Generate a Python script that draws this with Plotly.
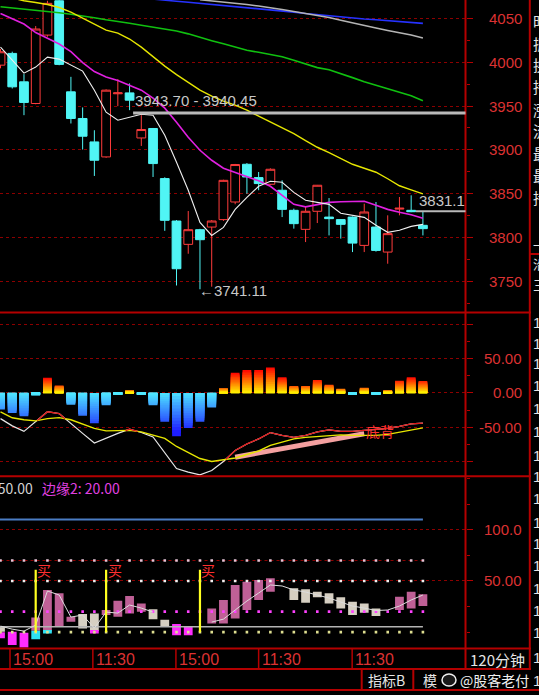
import plotly.graph_objects as go

W, H = 539, 695
RED_LINE = '#b40000'
GRID = '#8c0000'
LABEL = '#dc3232'
NUM_FONT = 'Liberation Sans, Arial, sans-serif'
CJK = 'Noto Sans CJK SC, sans-serif'

# ---------------- price panel data (120-minute candles) ----------------
bar_index = list(range(37))
open_p = [3996.6, 4010.0, 3977.6, 3952.9, 4030.9, 4070.0, 3966.2, 3935.8, 3909.1, 3892.0,
          3964.0, 3965.0, 3913.6, 3924.4, 3867.3, 3818.9, 3792.3, 3809.0, 3812.0, 3820.5,
          3840.6, 3883.6, 3868.4, 3860.8, 3854.0, 3831.1, 3809.4, 3830.0, 3823.4, 3820.5,
          3823.4, 3791.1, 3812.0, 3783.5, 3832.5, 3831.1, 3814.0]
high_p = [4015.0, 4012.0, 3986.4, 4041.2, 4070.0, 4072.0, 3983.3, 3948.4, 3922.4, 3969.0,
          3980.7, 3975.8, 3939.6, 3925.0, 3868.8, 3820.0, 3830.3, 3810.0, 3820.0, 3866.0,
          3884.0, 3885.0, 3874.8, 3879.0, 3865.3, 3833.0, 3834.9, 3860.0, 3845.1, 3821.0,
          3824.0, 3838.7, 3840.6, 3825.4, 3846.3, 3848.2, 3829.2]
low_p = [3993.0, 3970.0, 3939.6, 3952.0, 4029.0, 3996.5, 3930.1, 3900.4, 3870.3, 3891.0,
         3949.9, 3945.3, 3904.5, 3869.1, 3807.7, 3745.4, 3781.6, 3741.11, 3744.0, 3819.0,
         3838.0, 3850.0, 3854.0, 3860.0, 3823.4, 3810.2, 3794.9, 3816.6, 3802.5, 3798.8,
         3783.5, 3783.5, 3784.0, 3770.2, 3825.4, 3829.0, 3802.5]
close_p = [4011.9, 3971.9, 3954.1, 4037.8, 4067.1, 3997.5, 3935.8, 3915.6, 3888.2, 3968.1,
           3965.0, 3956.7, 3923.2, 3884.4, 3819.7, 3764.5, 3809.0, 3797.6, 3818.9, 3865.3,
           3883.3, 3869.1, 3861.6, 3877.9, 3832.2, 3815.9, 3830.0, 3859.7, 3821.6, 3815.1,
           3793.7, 3829.2, 3785.4, 3804.5, 3833.5, 3829.5, 3810.2]

ma5 = [4017.2, 4002.4, 3987.5, 3994.4, 4005.8, 4003.5, 3996.7, 3989.8, 3968.1, 3943.0,
       3933.9, 3937.3, 3940.7, 3939.6, 3916.7, 3885.9, 3853.9, 3817.4, 3802.5, 3811.7,
       3832.2, 3845.9, 3858.5, 3864.2, 3863.1, 3851.6, 3842.5, 3840.2, 3837.9, 3827.7,
       3825.4, 3823.1, 3814.0, 3806.0, 3808.3, 3812.8, 3815.1]
ma10 = [4055.5, 4049.8, 4043.5, 4033.8, 4026.9, 4020.7, 4012.1, 3999.5, 3989.3, 3983.0,
        3979.0, 3973.8, 3968.1, 3959.0, 3947.6, 3931.6, 3914.5, 3899.6, 3888.2, 3879.1,
        3874.5, 3869.9, 3864.8, 3858.5, 3847.7, 3837.9, 3835.1, 3837.9, 3840.2, 3840.8,
        3841.4, 3841.4, 3836.8, 3832.2, 3828.8, 3826.0, 3822.0]
ma20 = [None, 4073.2, 4070.0, 4068.0, 4065.8, 4062.3, 4057.2, 4050.3, 4043.5, 4036.6,
        4033.2, 4026.4, 4017.2, 4005.8, 3995.5, 3985.8, 3977.3, 3968.1, 3961.3, 3955.6,
        3951.0, 3945.3, 3938.4, 3931.9, 3925.3, 3918.5, 3910.5, 3903.0, 3896.8, 3889.9,
        3883.6, 3879.1, 3874.5, 3867.1, 3859.1, 3854.5, 3849.9]
ma60 = [4063.2, 4062.0, 4060.7, 4059.2, 4057.8, 4056.4, 4054.6, 4052.9, 4050.6, 4048.3,
        4046.6, 4044.4, 4042.2, 4040.0, 4037.8, 4035.5, 4032.3, 4028.1, 4024.5, 4020.9,
        4016.9, 4013.6, 4011.3, 4008.4, 4006.2, 4002.3, 3998.2, 3993.8, 3991.3, 3987.2,
        3982.4, 3977.8, 3973.8, 3969.3, 3965.3, 3961.8, 3956.1]
ma120 = [None] * 17 + [4071.2, 4070.0, 4068.6, 4067.2, 4065.8, 4064.0, 4062.3, 4060.0,
                       4057.8, 4055.5, 4053.4, 4050.9, 4047.8, 4044.6, 4041.8, 4038.9,
                       4036.1, 4033.8, 4030.9, 4027.5]
ma250 = [None] * 13 + [4072.0, 4070.4, 4069.4, 4068.3, 4067.1, 4066.1, 4065.0, 4063.8,
                       4062.6, 4061.4, 4060.3, 4058.7, 4057.1, 4055.5, 4054.1, 4052.7,
                       4051.5, 4050.3, 4049.3, 4048.4, 4047.4, 4046.3, 4045.3, 4044.3]

price_ticks = [4050, 4000, 3950, 3900, 3850, 3800, 3750]
band_high = [3940.45, 3943.70]   # "3943.70 - 3940.45" level
band_last = [3829.0, 3831.1]     # "3831.1" level
low_mark = 3741.11

# ---------------- MACD panel data ----------------
macd_bar = [-24, -29, -34, -3.5, 22, 11, -17, -33, -44, -18,
            -3, 4, -3, -18, -42, -63, -51, -42, -21, 7,
            29.5, 33.3, 33.3, 37, 23, 10, 10, 19, 12, 6,
            -3, 7.7, -2.5, 4, 17.7, 23, 17.3]
dif = [-37.3, -47.8, -55.8, -42.0, -27.3, -30.0, -44.9, -58.8, -72.7, -65.4,
       -58.8, -52.5, -57.5, -63.9, -86.6, -109.9, -115.1, -119.2, -112.9, -99.7,
       -83.6, -74.1, -66.8, -57.6, -61.7, -64.6, -61.7, -56.6, -53.7, -55.8,
       -55.8, -54.4, -52.9, -51.5, -48.5, -44.9, -43.9]
dea = [-27.6, -36.1, -39.0, -40.5, -37.3, -35.8, -39.0, -45.6, -51.5, -55.1,
       -55.1, -54.4, -56.6, -61.0, -66.1, -77.8, -86.6, -95.3, -99.7, -96.8,
       -94.6, -89.5, -84.4, -76.3, -71.2, -66.8, -64.6, -63.2, -61.7, -61.0,
       -61.7, -61.7, -61.7, -60.2, -57.3, -54.1, -50.7]
div_x = [20, 31]
div_y = [-93.4, -59.2]
macd_ticks = [50, 0, -50]
macd_tick_text = ['50.00', '0.00', '-50.00']

# ---------------- third indicator panel data ----------------
box_top = [5.2, None, None, 14.4, 41.2, 37.9, 15.0, 17.6, 18.3, 21.6,
           30.7, 35.3, 28.1, 22.3, 12.0, None, None, None, 23.2, 31.4,
           46.1, 49.3, 51.0, 52.6, None, 42.8, 41.9, 39.5, 37.9, 34.0,
           29.7, 28.1, 23.2, None, 34.6, 39.5, 37.0]
box_bot = [0.3, None, None, 1.3, 0.3, 5.2, 10.1, 3.6, 1.0, 16.7,
           15.0, 18.3, 19.9, 12.5, 5.0, None, None, None, 8.5, 8.5,
           13.4, 21.6, 31.4, 39.5, None, 31.4, 28.7, 34.0, 28.1, 23.2,
           16.7, 18.9, 15.7, None, 21.6, 23.2, 25.5]
box_kind = ['d', None, None, 'u', 'u', 'u', 'u', 'd', 'd', 'u',
            'u', 'u', 'u', 'd', 'd', None, None, None, 'u', 'u',
            'u', 'u', 'u', 'u', None, 'd', 'd', 'd', 'd', 'd',
            'd', 'd', 'd', None, 'u', 'u', 'u']
sig_top = [0.0, 0.3, -0.7, 1.3, 2.0, None, None, None, 2.0, None,
           None, None, None, None, None, 8.0, 6.0, None, None, None,
           None, None, None, None, None, None, None, None, None, None,
           None, None, None, None, None, None, None]
sig_bot = [-6.0, -12.7, -15.0, -6.9, -1.3, None, None, None, -1.3, None,
           None, None, None, None, None, -3.0, -3.0, None, None, None,
           None, None, None, None, None, None, None, None, None, None,
           None, None, None, None, None, None, None]
sig_kind = ['m', 'm', 'm', 'c', 'c', None, None, None, 'm', None,
            None, None, None, None, None, 'm', 'm', None, None, None,
            None, None, None, None, None, None, None, None, None, None,
            None, None, None, None, None, None, None]
ind_line = [5.9, 2.9, 1.0, 6.9, 40.2, 36.3, 14.7, 16.7, 3.9, 19.6,
            18.6, 26.5, 23.5, 19.6, None, None, None, None, 9.8, 12.7,
            21.6, 30.4, 38.2, 46.1, 45.1, 41.2, 39.2, 36.3, 33.3, 29.4,
            25.5, 23.5, 21.1, 21.6, 25.5, 31.4, 36.3]
buy_idx = [3, 9, 17]
buy_top = 61
blue_level = 110
gray_level = 5.2
dot_levels = [70, 50, 20, 0]
dot_colors = ['#e6c4d6', '#f0f0f0', '#ff40ff', '#dede90']
ind_ticks = [100, 50]
ind_tick_text = ['100.0', '50.00']

time_labels = ['15:00', '11:30', '15:00', '11:30', '11:30']
time_pos = [0.81, 7.87, 14.95, 22.0, 29.97]


def px(x):
    return x / W


def py(y):
    return 1 - y / H


def lerp(c1, c2, t):
    t = max(0.0, min(1.0, t))
    return 'rgb(%d,%d,%d)' % tuple(round(a + (b - a) * t) for a, b in zip(c1, c2))


fig = go.Figure()

# ---- candles ----
fig.add_trace(go.Candlestick(
    x=bar_index, open=open_p, high=high_p, low=low_p, close=close_p,
    increasing=dict(line=dict(color='#ff3c3c', width=1), fillcolor='#000000'),
    decreasing=dict(line=dict(color='#50f5f5', width=1), fillcolor='#50f5f5'),
    whiskerwidth=0, hoverinfo='skip', xaxis='x', yaxis='y'))

for series, col, wd in [(ma250, '#2632ff', 1.6), (ma120, '#b4b4b4', 1.5), (ma60, '#10c010', 1.6),
                        (ma20, '#e6e600', 1.4), (ma10, '#e020e0', 1.6), (ma5, '#f0f0f0', 1.1)]:
    fig.add_trace(go.Scatter(x=bar_index, y=series, mode='lines', line=dict(color=col, width=wd),
                             hoverinfo='skip', xaxis='x', yaxis='y', connectgaps=False))

# ---- MACD gradient bars ----
YEL, RED = (255, 255, 0), (255, 10, 0)
CYN, BLU = (80, 235, 255), (30, 30, 255)
bx, by, bc = [], [], []
for i, v in enumerate(macd_bar):
    n = 14
    for k in range(n, 0, -1):
        h = v * k / n
        if v > 0:
            strength = min(1.0, 0.45 + v / 40.0)
            col = lerp(YEL, RED, (k / n) * strength)
        else:
            col = lerp(CYN, BLU, abs(h) / 58.0)
        bx.append(i)
        by.append(h)
        bc.append(col)
fig.add_trace(go.Bar(x=bx, y=by, marker=dict(color=bc, line=dict(width=0)), width=0.75,
                     hoverinfo='skip', xaxis='x', yaxis='y2'))

# DIF (white), divergence line, DEA (yellow), DIF above DEA (red)
fig.add_trace(go.Scatter(x=bar_index, y=dif, mode='lines', line=dict(color='#e6e6e6', width=1.2),
                         hoverinfo='skip', xaxis='x', yaxis='y2'))
fig.add_trace(go.Scatter(x=div_x, y=div_y, mode='lines', line=dict(color='#f4a0a0', width=5),
                         hoverinfo='skip', xaxis='x', yaxis='y2'))
fig.add_trace(go.Scatter(x=bar_index, y=dea, mode='lines', line=dict(color='#e6e600', width=1.4),
                         hoverinfo='skip', xaxis='x', yaxis='y2'))
rx, ry = [], []
for i in range(len(bar_index)):
    d0 = dif[i] - dea[i]
    if d0 > 0:
        rx.append(bar_index[i]); ry.append(dif[i])
    if i + 1 < len(bar_index):
        d1 = dif[i + 1] - dea[i + 1]
        if (d0 > 0) != (d1 > 0):
            t = d0 / (d0 - d1)
            rx.append(bar_index[i] + t); ry.append(dif[i] + t * (dif[i + 1] - dif[i]))
            if d1 <= 0:
                rx.append(None); ry.append(None)
fig.add_trace(go.Scatter(x=rx, y=ry, mode='lines', line=dict(color='#e01818', width=1.3),
                         hoverinfo='skip', xaxis='x', yaxis='y2'))

# ---- third panel ----
for lvl, col in zip(dot_levels, dot_colors):
    if lvl == 70:
        fig.add_trace(go.Scatter(x=[bar_index[0], bar_index[-1]], y=[lvl, lvl], mode='lines',
                                 line=dict(color=GRID, width=1, dash='dot'), hoverinfo='skip',
                                 xaxis='x', yaxis='y3'))
    fig.add_trace(go.Scatter(x=bar_index, y=[lvl] * len(bar_index), mode='markers',
                             marker=dict(color=col, size=2.6, symbol='square'), hoverinfo='skip',
                             xaxis='x', yaxis='y3'))
fig.add_trace(go.Scatter(x=[-0.5, bar_index[-1]], y=[blue_level, blue_level], mode='lines',
                         line=dict(color='#4a7cc4', width=2), hoverinfo='skip', xaxis='x', yaxis='y3'))
fig.add_trace(go.Scatter(x=[-0.5, bar_index[-1]], y=[gray_level, gray_level], mode='lines',
                         line=dict(color='#b4b4b4', width=1.6), hoverinfo='skip', xaxis='x', yaxis='y3'))

kind_col = {'u': '#bf6096', 'd': '#d6cfc2', 'm': '#ff2cff', 'c': '#2ee2f2'}
for tops, bots, kinds, op in [(box_top, box_bot, box_kind, 1.0), (sig_top, sig_bot, sig_kind, 1.0)]:
    xs, hs, bs, cs = [], [], [], []
    for i in bar_index:
        if kinds[i] is None:
            continue
        xs.append(i); bs.append(bots[i]); hs.append(tops[i] - bots[i]); cs.append(kind_col[kinds[i]])
    fig.add_trace(go.Bar(x=xs, y=hs, base=bs, width=0.75, opacity=op,
                         marker=dict(color=cs, line=dict(width=0)), hoverinfo='skip',
                         xaxis='x', yaxis='y3'))
fig.add_trace(go.Scatter(x=bar_index, y=ind_line, mode='lines', line=dict(color='#dcdcdc', width=1),
                         hoverinfo='skip', xaxis='x', yaxis='y3', connectgaps=False))
bxs, bys = [], []
for b in buy_idx:
    bxs += [b, b, None]; bys += [0, buy_top, None]
fig.add_trace(go.Scatter(x=bxs, y=bys, mode='lines', line=dict(color='#ffff20', width=2.2),
                         hoverinfo='skip', xaxis='x', yaxis='y3'))

# ---- annotations ----
ann = []


def txt(x, y, s, color, size, xanchor='left', family=NUM_FONT, xref='paper', yref='paper', xshift=0):
    ann.append(dict(x=x, y=y, xref=xref, yref=yref, text=s, showarrow=False, xanchor=xanchor,
                    yanchor='middle', xshift=xshift, borderpad=0,
                    font=dict(color=color, size=size, family=family)))


for v in price_ticks:
    txt(px(523), v, str(v), LABEL, 15, 'right', yref='y')
for v, s in zip(macd_ticks, macd_tick_text):
    txt(px(523), v, s, LABEL, 15, 'right', yref='y2')
for v, s in zip(ind_ticks, ind_tick_text):
    txt(px(523), v, s, LABEL, 15, 'right', yref='y3')

txt(px(134), py(100), '%.2f - %.2f' % (band_high[1], band_high[0]), '#c8c8c8', 15)
txt(px(418), py(200), '%.1f' % band_last[1], '#c8c8c8', 15)
txt(px(198), py(290), '\u2190%.2f' % low_mark, '#c8c8c8', 15)

txt(31, -55, '底背', '#ff3030', 14, 'left', CJK, xref='x', yref='y2', xshift=1)
for b in buy_idx:
    txt(b, buy_top, '买', '#ff3030', 14, 'center', CJK, xref='x', yref='y3', xshift=8.5)

txt(px(34), py(488), '边缘1: 50.00', '#d2d2d2', 14, 'right', CJK)
txt(px(41), py(488), '边缘2: 20.00', '#e040e0', 14, 'left', CJK)

for s, p in zip(time_labels, time_pos):
    txt(p, py(659), s, LABEL, 16, 'left', xref='x', xshift=2)

txt(px(469), py(659), '120分钟', '#e6e6e6', 15, 'left', CJK)
txt(px(367), py(680), '指标B', '#e6e6e6', 14, 'left', CJK)
txt(px(422), py(680), '模', '#e6e6e6', 14, 'left', CJK)
txt(px(459), py(680), '@股客老付', '#f0f0f0', 14, 'left', CJK)

right_chars = [('时', 21), ('振', 43), ('换', 65), ('持', 87), ('涨', 109), ('流', 131),
               ('最', 153), ('最', 175), ('持', 197)]
for ch, yy in right_chars:
    txt(px(532), py(yy), ch, '#e6e6e6', 15, 'left', CJK)
for ch, yy in [('一', 244), ('沿', 264), ('三', 284)]:
    txt(px(532), py(yy), ch, '#e6e6e6', 13, 'left', CJK)
for yy in [323, 343, 363, 385, 408, 432, 455, 476, 499, 522, 543, 565, 588, 610, 632, 657, 680]:
    txt(px(532), py(yy), '1', '#e6e6e6', 15, 'left')

# ---- shapes (frame lines) ----
shapes = []


def hline(y, x0, x1, col=RED_LINE, w=2):
    shapes.append(dict(type='line', xref='paper', yref='paper', x0=px(x0), x1=px(x1), y0=py(y), y1=py(y),
                       line=dict(color=col, width=w)))


def vline(x, y0, y1, col=RED_LINE, w=2):
    shapes.append(dict(type='line', xref='paper', yref='paper', x0=px(x), x1=px(x), y0=py(y0), y1=py(y1),
                       line=dict(color=col, width=w)))


hline(312.5, 0, 531)
hline(476.3, 0, 531)
hline(648.5, 0, 531)
hline(669, 0, 531)
hline(690, 0, 539)
hline(254, 530, 539)
vline(465.5, 0, 669)
vline(529.8, 0, 669)
vline(361.7, 669, 690)
vline(413.3, 669, 690)
for p in time_pos:
    shapes.append(dict(type='line', xref='x', yref='paper', x0=p, x1=p, y0=py(648.5), y1=py(669),
                       line=dict(color=RED_LINE, width=1.5)))
shapes.append(dict(type='rect', xref='x', yref='y', x0=11.3, x1=39.7, y0=band_high[0], y1=band_high[1],
                   fillcolor='#b9b9b9', line=dict(width=0)))
shapes.append(dict(type='rect', xref='x', yref='y', x0=35.4, x1=39.7, y0=band_last[0], y1=band_last[1],
                   fillcolor='#b9b9b9', line=dict(width=0)))
shapes.append(dict(type='circle', xref='paper', yref='paper', x0=px(442), x1=px(456), y0=py(686), y1=py(674),
                   fillcolor='#1a1a1a', line=dict(color='#f0f0f0', width=1.5)))


def yax(domain, rng, dtick=None, tickvals=None):
    d = dict(domain=domain, range=rng, anchor='x', side='right', showline=False, zeroline=False,
             showgrid=True, gridcolor=GRID, griddash='dot', gridwidth=1,
             ticks='outside', ticklen=6, tickcolor=RED_LINE, tickwidth=1, showticklabels=False,
             fixedrange=True)
    if tickvals is not None:
        d.update(tickmode='array', tickvals=tickvals,
                 minor=dict(tickmode='linear', tick0=0, dtick=25, ticks='outside', ticklen=3,
                            tickcolor=RED_LINE, showgrid=False))
    else:
        d.update(tick0=0, dtick=dtick,
                 minor=dict(tick0=0, dtick=dtick / 2, ticks='outside', ticklen=3,
                            tickcolor=RED_LINE, showgrid=False))
    return d


fig.update_layout(
    width=W, height=H, margin=dict(l=0, r=0, t=0, b=0),
    paper_bgcolor='#000000', plot_bgcolor='#000000', showlegend=False, barmode='overlay',
    boxgap=0.1, boxgroupgap=0.17,
    xaxis=dict(domain=[0, 465.5 / W], range=[-0.043, 39.63], showgrid=False, zeroline=False,
               showticklabels=False, ticks='', showline=False, anchor='y3', fixedrange=True,
               rangeslider=dict(visible=False)),
    yaxis=yax([py(312.5), 1], [3714.6, 4070.9], dtick=50),
    yaxis2=yax([py(476.3), py(312.5)], [-121.2, 117.1], dtick=50),
    yaxis3=yax([py(648.5), py(476.3)], [-16.0, 152.3], tickvals=[50, 100]),
    annotations=ann, shapes=shapes,
)

fig.write_html("out.html", config={'displayModeBar': False},
               post_script="document.body.style.margin='0';document.body.style.overflow='hidden';")
